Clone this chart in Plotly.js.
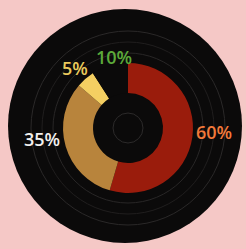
<!DOCTYPE html>
<html>
<head>
<meta charset="utf-8">
<script src="https://cdn.plot.ly/plotly-3.0.1.min.js"></script>
<style>html,body{margin:0;padding:0;background:#f5c8c6;}#chart{width:246px;height:249px;}</style>
</head>
<body>
<div id="chart"></div>
<script>
// Data
const categories = ["Red", "Tan", "Yellow", "Black"];
const values = [60, 35, 5, 10];
const labelTexts = ["60%", "35%", "5%", "10%"];

// Styles
const sliceColors = ["#9a1c0c", "#b8843c", "#f4cf62", "#0b0a0a"];
const labelColors = ["#f2793a", "#f2f0ee", "#e9c95c", "#5caa3a"];
const labelPos = [[214, 132], [42, 139], [75, 68], [114, 57]]; // pixel centres

const W = 246, H = 249;
const cx = 128, cy = 128, rOut = 65, rIn = 35;
const px = x => x / W;
const py = y => 1 - y / H;

function circle(x, y, r, fill, line) {
  return {type: "circle", xref: "paper", yref: "paper", layer: "below",
    x0: px(x - r), x1: px(x + r), y0: py(y + r), y1: py(y - r),
    fillcolor: fill, line: line};
}

const shapes = [
  circle(125, 126, 117, "#0b0a0a", {width: 0}),
  circle(cx, cy, 97, "rgba(0,0,0,0)", {color: "#2a2828", width: 1}),
  circle(cx, cy, 86, "rgba(0,0,0,0)", {color: "#201e1e", width: 1}),
  circle(cx, cy, 75, "rgba(0,0,0,0)", {color: "#282626", width: 1}),
  Object.assign(circle(cx, cy, 15, "rgba(0,0,0,0)", {color: "#2c2a2a", width: 1}), {layer: "above"})
];

const trace = {
  type: "pie",
  labels: categories,
  values: values,
  sort: false,
  direction: "clockwise",
  rotation: 0,
  hole: rIn / rOut,
  marker: {colors: sliceColors, line: {width: 0}},
  textinfo: "none",
  hoverinfo: "none",
  showlegend: false,
  domain: {x: [px(cx - rOut), px(cx + rOut)], y: [py(cy + rOut), py(cy - rOut)]}
};

const annotations = labelTexts.map((t, i) => ({
  text: t, xref: "paper", yref: "paper",
  x: px(labelPos[i][0]), y: py(labelPos[i][1]),
  xanchor: "center", yanchor: "middle", showarrow: false,
  font: {family: "Open Sans", size: 18, weight: 600, color: labelColors[i]}
}));

Plotly.newPlot("chart", [trace], {
  width: W, height: H,
  margin: {l: 0, r: 0, t: 0, b: 0},
  paper_bgcolor: "#f5c8c6",
  plot_bgcolor: "rgba(0,0,0,0)",
  shapes: shapes,
  annotations: annotations
}, {staticPlot: true});
</script>
</body>
</html>
